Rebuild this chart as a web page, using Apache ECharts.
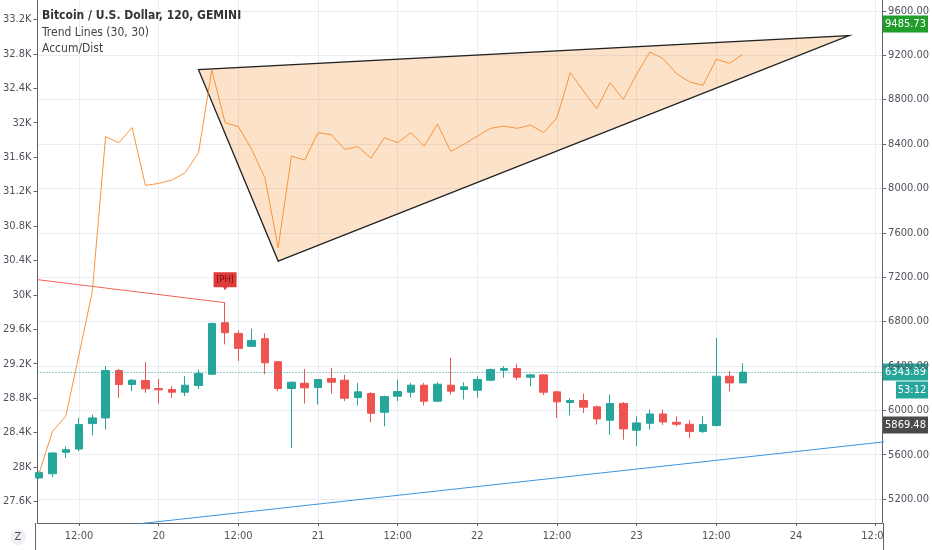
<!DOCTYPE html>
<html><head><meta charset="utf-8">
<script src="https://cdn.jsdelivr.net/npm/echarts@6.0.0/dist/echarts.min.js"></script>
<style>html,body{margin:0;padding:0;background:#fff}#c{width:932px;height:550px}</style>
</head><body><div id="c"></div>
<script>
const FONT = "'Liberation Sans Narrow','DejaVu Sans Condensed','Roboto Condensed','Liberation Sans',sans-serif";

// 2h candles, first bar = 19th 06:00 (index on the x axis)
const opens  = [5390,5428,5621,5651,5880,5931,6358,6232,6268,6196,6187,6163,6223,6325,6789,6693,6576,6645,6437,6196,6244,6205,6286,6271,6115,6151,5982,6127,6163,6226,6082,6226,6187,6181,6271,6361,6376,6298,6319,6166,6070,6088,6031,5910,6061,5820,5883,5967,5892,5874,5808,5862,6307,6247];
const closes = [5440,5615,5645,5871,5931,6358,6232,6271,6193,6184,6163,6226,6331,6783,6699,6558,6630,6428,6196,6253,6202,6277,6253,6109,6166,5973,6124,6169,6226,6082,6235,6172,6211,6277,6367,6376,6298,6319,6163,6076,6088,6028,5922,6061,5832,5886,5967,5895,5874,5808,5871,6307,6247,6344];
const highs  = [5449,5621,5675,5931,5961,6398,6373,6283,6434,6283,6217,6307,6367,6789,6970,6720,6735,6693,6443,6260,6373,6280,6382,6319,6247,6163,6133,6277,6247,6247,6253,6473,6253,6307,6376,6398,6419,6328,6325,6172,6109,6151,6043,6142,6073,5946,6006,6006,5946,5910,5946,6653,6352,6422];
const lows   = [5381,5398,5570,5630,5774,5826,6112,6172,6157,6061,6112,6127,6193,6319,6594,6443,6570,6325,6172,5660,6061,6052,6151,6082,6043,5892,5856,6082,6115,6043,6073,6142,6097,6112,6262,6292,6271,6217,6136,5931,5955,5976,5871,5780,5735,5675,5826,5868,5856,5750,5795,5856,6172,6245];
// Accum/Dist (left scale)
const accumDist = [27930,28414,28588,29306,30038,31837,31767,31942,31271,31294,31333,31419,31651,32612,32000,31953,31690,31360,30547,31612,31565,31884,31860,31690,31721,31588,31826,31767,31884,31728,31984,31666,31748,31844,31934,31960,31934,31972,31884,32058,32581,32367,32163,32465,32271,32562,32821,32744,32570,32472,32434,32736,32690,32794];
// drawings (bar index, price)
const triBars   = [12, 18, 61];
const triPrices = [9070, 7345, 9377];
const redTrendBars   = [-1, 14];
const redTrendPrices = [7190, 6970];
const blueTrendBars   = [-1, 64];
const blueTrendPrices = [4865, 5720];
const lastPrice = 6343.89;
const prevClose = 5869.48;
const topTag = 9485.73;
const countdown = '53:12';
// axis ticks
const xTickPos    = [3,9,15,21,27,33,39,45,51,57,63];
const xTickLabels = ['12:00','20','12:00','21','12:00','22','12:00','23','12:00','24','12:00'];
const leftTicks  = [27600,28000,28400,28800,29200,29600,30000,30400,30800,31200,31600,32000,32400,32800,33200];
const rightTicks = [5200,5600,6000,6400,6800,7200,7600,8000,8400,8800,9200,9600];

const UP = '#26a69a', DOWN = '#ef5350', AXIS = '#5f626c', TXT = '#4f525c', GRID = '#e9edf3';

const candleData = opens.map((o, i) => [i, o, closes[i], lows[i], highs[i]]);
const adData = accumDist.map((v, i) => [i, v]);

const chart = echarts.init(document.getElementById('c'));
const option = {
  animation: false,
  grid: {left: 35, right: 49, top: 0, bottom: 27},
  xAxis: {
    type: 'value', min: -0.1275, max: 63.49,
    axisLine: {show: true, onZero: false, lineStyle: {color: AXIS}},
    axisTick: {show: true, customValues: xTickPos, length: 3, lineStyle: {color: AXIS}},
    axisLabel: {customValues: xTickPos, formatter: v => xTickLabels[xTickPos.indexOf(v)], color: TXT, fontSize: 11, fontFamily: FONT, margin: 8},
    splitLine: {show: true, lineStyle: {color: GRID}}
  },
  yAxis: [{
    type: 'value', position: 'left', min: 27349, max: 33425,
    axisLine: {show: true, onZero: false, lineStyle: {color: AXIS}},
    axisTick: {show: true, customValues: leftTicks, length: 4, lineStyle: {color: AXIS}},
    axisLabel: {customValues: leftTicks, formatter: v => (Math.round(v / 100) / 10) + 'K', color: TXT, fontSize: 11, fontFamily: FONT, margin: 6},
    splitLine: {show: false}
  }, {
    type: 'value', position: 'right', min: 4984, max: 9698,
    axisLine: {show: true, onZero: false, lineStyle: {color: AXIS}},
    axisTick: {show: true, customValues: rightTicks, length: 4, lineStyle: {color: AXIS}},
    axisLabel: {customValues: rightTicks, formatter: v => v.toFixed(2), color: TXT, fontSize: 11, fontFamily: FONT, margin: 6},
    splitLine: {show: true, lineStyle: {color: GRID}}
  }],
  series: [{
    type: 'custom', yAxisIndex: 1, silent: true, z: 1,
    data: [[triBars[0], triPrices[0]]], encode: {x: 0, y: 1},
    renderItem: (params, api) => ({
      type: 'polygon',
      shape: {points: triBars.map((b, i) => api.coord([b, triPrices[i]]))},
      style: {fill: 'rgba(245,150,60,0.28)', stroke: '#222', lineWidth: 1.3}
    })
  }, {
    type: 'line', yAxisIndex: 1, silent: true, symbol: 'none', z: 2,
    data: redTrendBars.map((b, i) => [b, redTrendPrices[i]]),
    lineStyle: {color: '#f0625a', width: 1}
  }, {
    type: 'line', yAxisIndex: 1, silent: true, symbol: 'none', z: 2,
    data: blueTrendBars.map((b, i) => [b, blueTrendPrices[i]]),
    lineStyle: {color: '#3d95e0', width: 1}
  }, {
    type: 'candlestick', yAxisIndex: 1, z: 3, barWidth: 8,
    dimensions: ['idx', 'open', 'close', 'lowest', 'highest'],
    encode: {x: 'idx', y: ['open', 'close', 'lowest', 'highest']},
    data: candleData,
    itemStyle: {color: UP, color0: DOWN, borderColor: UP, borderColor0: DOWN, borderWidth: 1},
    markLine: {
      silent: true, symbol: 'none', label: {show: false},
      lineStyle: {color: UP, type: [1, 2], width: 1},
      data: [{yAxis: lastPrice}]
    },
    markPoint: {
      silent: true,
      data: [{
        coord: [14, highs[14]],
        symbol: 'path://M0,0 L24,0 L24,15 L14,15 L12,18 L10,15 L0,15 Z',
        symbolSize: [23, 18], symbolKeepAspect: false, symbolOffset: [0, -21.5],
        itemStyle: {color: '#e03a3a'},
        label: {show: true, formatter: '[PH]', color: '#6e0e0e', fontSize: 9, fontFamily: FONT, offset: [0, -1.5]}
      }]
    }
  }, {
    type: 'line', yAxisIndex: 0, silent: true, symbol: 'none', z: 4,
    data: adData,
    lineStyle: {color: '#f7933c', width: 1}
  }]
};
chart.setOption(option);

const yPx = v => chart.convertToPixel({yAxisIndex: 1}, v);
function tag(v, text, bg, x, w, dy) {
  const y = Math.round(yPx(v)) + (dy || 0);
  return {type: 'group', z: 100, children: [
    {type: 'rect', shape: {x: x, y: y - 8.5, width: w, height: 17}, style: {fill: bg}},
    {type: 'text', style: {x: x + w / 2, y: y, text: text, fill: '#fff', fontSize: 11, fontFamily: FONT, align: 'center', verticalAlign: 'middle'}}
  ]};
}
function btn(cx, cy, t) {
  return {type: 'group', z: 100, children: [
    {type: 'circle', shape: {cx: cx, cy: cy, r: 8}, style: {fill: '#eef0f4'}},
    {type: 'text', style: {x: cx, y: cy, text: t, fill: TXT, fontSize: 11, fontFamily: FONT, align: 'center', verticalAlign: 'middle'}}
  ]};
}
chart.setOption({graphic: [
  {type: 'rect', z: 90, shape: {x: 884, y: 524, width: 48, height: 26}, style: {fill: '#fff'}},
  {type: 'line', z: 95, shape: {x1: 35.5, y1: 523, x2: 35.5, y2: 550}, style: {stroke: AXIS, lineWidth: 1}},
  {type: 'line', z: 95, shape: {x1: 883.5, y1: 523, x2: 883.5, y2: 550}, style: {stroke: AXIS, lineWidth: 1}},
  btn(18, 537, 'Z'),
  btn(907, 537, 'A'),
  {type: 'text', z: 100, style: {x: 42, y: 16, text: 'Bitcoin / U.S. Dollar, 120, GEMINI', fill: '#333', fontSize: 12, fontWeight: 'bold', fontFamily: FONT, verticalAlign: 'middle'}},
  {type: 'text', z: 100, style: {x: 42, y: 32.5, text: 'Trend Lines (30, 30)', fill: '#444', fontSize: 12, fontFamily: FONT, verticalAlign: 'middle'}},
  {type: 'text', z: 100, style: {x: 42, y: 48.5, text: 'Accum/Dist', fill: '#444', fontSize: 12, fontFamily: FONT, verticalAlign: 'middle'}},
  tag(topTag, topTag.toFixed(2), '#1f9e2a', 883, 45),
  tag(lastPrice, lastPrice.toFixed(2), UP, 883, 45),
  tag(lastPrice, countdown, UP, 896, 32, 18),
  tag(prevClose, prevClose.toFixed(2), '#4a4a4a', 883, 45)
]});
</script>
</body></html>
